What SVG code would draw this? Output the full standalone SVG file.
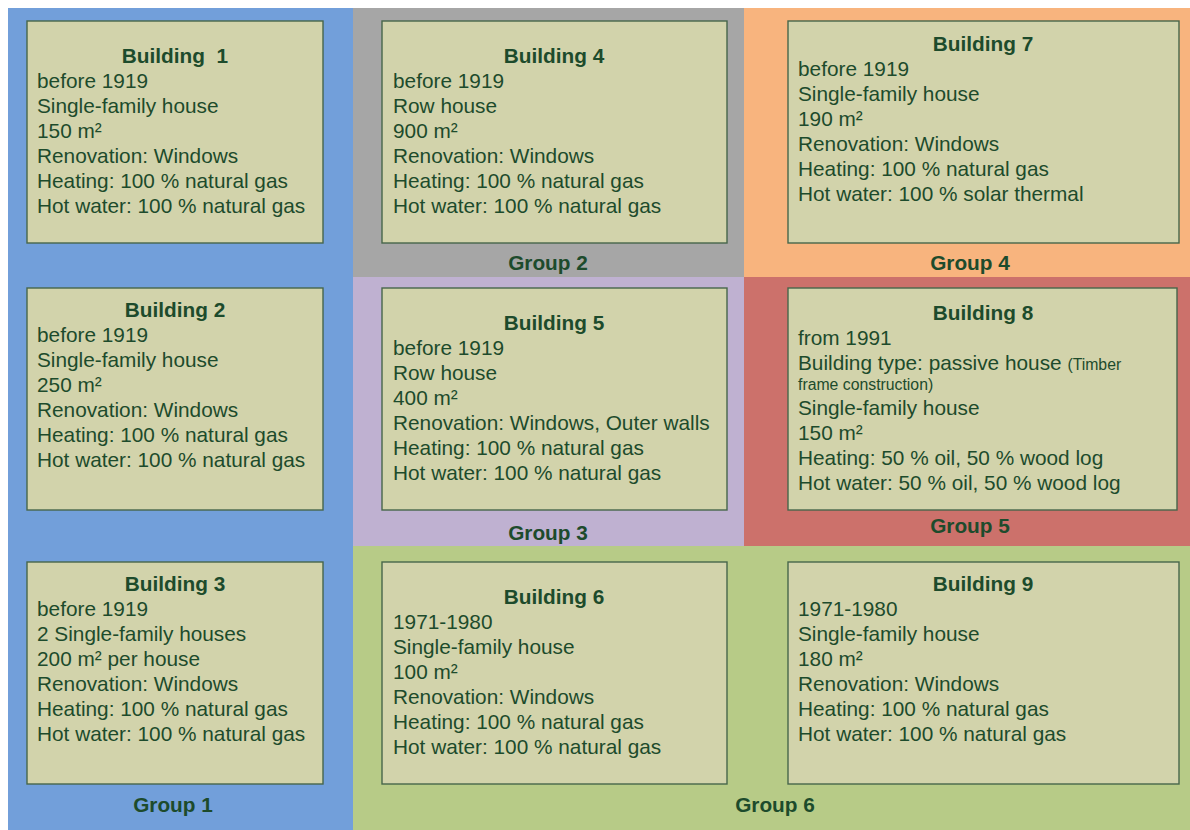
<svg xmlns="http://www.w3.org/2000/svg" width="1190" height="830" viewBox="0 0 1190 830">
<style>
.box{fill:#d2d3ab;stroke:#47664a;stroke-width:1.4}
text{font-family:"Liberation Sans",Arial,sans-serif;fill:#1d4b2c}
.t{font-size:20.8px;font-weight:bold;text-anchor:middle}
.l{font-size:20.8px}
.s{font-size:15.8px}
.g{font-size:20.8px;font-weight:bold;text-anchor:middle}
</style>
<rect width="1190" height="830" fill="#ffffff"/>
<g id="groups">
<g id="group1"><rect x="8" y="8" width="345" height="822" fill="#729fda"/><text class="g" x="173" y="812">Group 1</text></g>
<g id="group2"><rect x="353" y="8" width="391" height="269" fill="#a6a6a6"/><text class="g" x="548" y="270">Group 2</text></g>
<g id="group4"><rect x="744" y="8" width="446" height="269" fill="#f8b47e"/><text class="g" x="970" y="270">Group 4</text></g>
<g id="group3"><rect x="353" y="277" width="391" height="269" fill="#bfb1d1"/><text class="g" x="548" y="540">Group 3</text></g>
<g id="group5"><rect x="744" y="277" width="446" height="269" fill="#cc716b"/><text class="g" x="970" y="533">Group 5</text></g>
<g id="group6"><rect x="353" y="546" width="837" height="284" fill="#b7cb87"/><text class="g" x="775" y="812">Group 6</text></g>
</g>
<g id="connectors"></g>
<g id="building1">
<rect class="box" x="27" y="21" width="296" height="222"/>
<text class="t" x="175" y="63">Building&#160; 1</text>
<text class="l" x="37" y="88">before 1919</text>
<text class="l" x="37" y="113">Single-family house</text>
<text class="l" x="37" y="138">150 m²</text>
<text class="l" x="37" y="163">Renovation: Windows</text>
<text class="l" x="37" y="188">Heating: 100 % natural gas</text>
<text class="l" x="37" y="213">Hot water: 100 % natural gas</text>
</g>
<g id="building2">
<rect class="box" x="27" y="288" width="296" height="222"/>
<text class="t" x="175" y="317">Building 2</text>
<text class="l" x="37" y="342">before 1919</text>
<text class="l" x="37" y="367">Single-family house</text>
<text class="l" x="37" y="392">250 m²</text>
<text class="l" x="37" y="417">Renovation: Windows</text>
<text class="l" x="37" y="442">Heating: 100 % natural gas</text>
<text class="l" x="37" y="467">Hot water: 100 % natural gas</text>
</g>
<g id="building3">
<rect class="box" x="27" y="562" width="296" height="222"/>
<text class="t" x="175" y="591">Building 3</text>
<text class="l" x="37" y="616">before 1919</text>
<text class="l" x="37" y="641">2 Single-family houses</text>
<text class="l" x="37" y="666">200 m² per house</text>
<text class="l" x="37" y="691">Renovation: Windows</text>
<text class="l" x="37" y="716">Heating: 100 % natural gas</text>
<text class="l" x="37" y="741">Hot water: 100 % natural gas</text>
</g>
<g id="building4">
<rect class="box" x="382" y="21" width="345" height="222"/>
<text class="t" x="554" y="63">Building 4</text>
<text class="l" x="393" y="88">before 1919</text>
<text class="l" x="393" y="113">Row house</text>
<text class="l" x="393" y="138">900 m²</text>
<text class="l" x="393" y="163">Renovation: Windows</text>
<text class="l" x="393" y="188">Heating: 100 % natural gas</text>
<text class="l" x="393" y="213">Hot water: 100 % natural gas</text>
</g>
<g id="building5">
<rect class="box" x="382" y="288" width="345" height="222"/>
<text class="t" x="554" y="330">Building 5</text>
<text class="l" x="393" y="355">before 1919</text>
<text class="l" x="393" y="380">Row house</text>
<text class="l" x="393" y="405">400 m²</text>
<text class="l" x="393" y="430">Renovation: Windows, Outer walls</text>
<text class="l" x="393" y="455">Heating: 100 % natural gas</text>
<text class="l" x="393" y="480">Hot water: 100 % natural gas</text>
</g>
<g id="building6">
<rect class="box" x="382" y="562" width="345" height="222"/>
<text class="t" x="554" y="604">Building 6</text>
<text class="l" x="393" y="629">1971-1980</text>
<text class="l" x="393" y="654">Single-family house</text>
<text class="l" x="393" y="679">100 m²</text>
<text class="l" x="393" y="704">Renovation: Windows</text>
<text class="l" x="393" y="729">Heating: 100 % natural gas</text>
<text class="l" x="393" y="754">Hot water: 100 % natural gas</text>
</g>
<g id="building7">
<rect class="box" x="788" y="21" width="391" height="222"/>
<text class="t" x="983" y="51">Building 7</text>
<text class="l" x="798" y="76">before 1919</text>
<text class="l" x="798" y="101">Single-family house</text>
<text class="l" x="798" y="126">190 m²</text>
<text class="l" x="798" y="151">Renovation: Windows</text>
<text class="l" x="798" y="176">Heating: 100 % natural gas</text>
<text class="l" x="798" y="201">Hot water: 100 % solar thermal</text>
</g>
<g id="building8">
<rect class="box" x="788" y="288" width="389" height="222"/>
<text class="t" x="983" y="320">Building 8</text>
<text class="l" x="798" y="345">from 1991</text>
<text class="l" x="798" y="370">Building type: passive house <tspan class="s">(Timber</tspan></text>
<text class="s" x="798" y="390">frame construction)</text>
<text class="l" x="798" y="415">Single-family house</text>
<text class="l" x="798" y="440">150 m²</text>
<text class="l" x="798" y="465">Heating: 50 % oil, 50 % wood log</text>
<text class="l" x="798" y="490">Hot water: 50 % oil, 50 % wood log</text>
</g>
<g id="building9">
<rect class="box" x="788" y="562" width="391" height="222"/>
<text class="t" x="983" y="591">Building 9</text>
<text class="l" x="798" y="616">1971-1980</text>
<text class="l" x="798" y="641">Single-family house</text>
<text class="l" x="798" y="666">180 m²</text>
<text class="l" x="798" y="691">Renovation: Windows</text>
<text class="l" x="798" y="716">Heating: 100 % natural gas</text>
<text class="l" x="798" y="741">Hot water: 100 % natural gas</text>
</g>
</svg>
